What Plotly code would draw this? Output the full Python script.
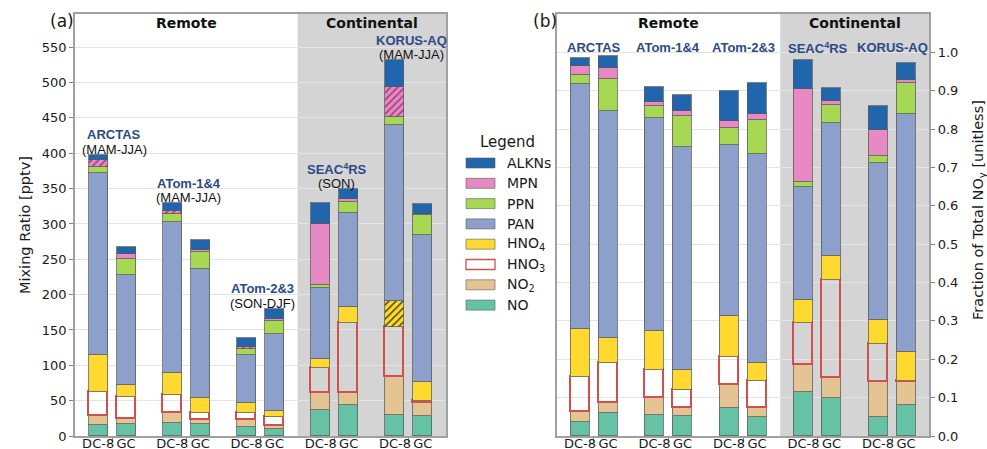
import plotly.graph_objects as go

# ---------------------------------------------------------------------------
# Data: NOy partitioning, aircraft (DC-8) vs GEOS-Chem (GC), five campaigns.
# Each list holds 10 bars: [ARCTAS DC-8, ARCTAS GC, ATom-1&4 DC-8, ATom-1&4 GC,
#  ATom-2&3 DC-8, ATom-2&3 GC, SEAC4RS DC-8, SEAC4RS GC, KORUS DC-8, KORUS GC]
# ---------------------------------------------------------------------------
campaigns = ["ARCTAS", "ATom-1&4", "ATom-2&3", "SEAC<sup>4</sup>RS", "KORUS-AQ"]
seasons = ["(MAM-JJA)", "(MAM-JJA)", "(SON-DJF)", "(SON)", "(MAM-JJA)"]
bar_labels = ["DC-8", "GC"]

species = ["NO", "NO2", "HNO3", "HNO4", "PAN", "PPN", "MPN", "ALKNs"]
species_names = ["NO", "NO<sub>2</sub>", "HNO<sub>3</sub>", "HNO<sub>4</sub>",
                 "PAN", "PPN", "MPN", "ALKNs"]

# mixing ratios [pptv]
ppt_no = [15.5, 17, 18, 17, 12.3, 10, 36.8, 43.9, 29.7, 28.3]
ppt_no2 = [13, 6.6, 14, 5.6, 10.3, 4.6, 23.6, 16.5, 53.8, 18.7]
ppt_hno3 = [34, 31.1, 26.5, 10.4, 10.4, 12.4, 35.6, 99, 70.5, 2.5]
ppt_hno4 = [52, 17.5, 31.1, 21.2, 14, 8, 12.5, 22.6, 37.5, 26.5]
ppt_pan = [257, 155.2, 213.7, 181.6, 67.6, 109, 100.5, 133, 249, 208.4]
ppt_ppn = [9.5, 22.6, 10.4, 24.2, 8, 18, 4.7, 16.5, 11.3, 27.6]
ppt_mpn = [9.5, 7.5, 4.3, 3, 2.9, 3, 86.3, 3.5, 41.6, 2]
ppt_alkn = [7.5, 10.5, 11.7, 14, 13.2, 15, 30, 14.5, 38.6, 14]

# fraction of total NOy [unitless]
frac_no = [.036, .061, .055, .053, .074, .050, .115, .100, .050, .081]
frac_no2 = [.027, .024, .045, .021, .058, .022, .069, .052, .090, .060]
frac_hno3 = [.090, .106, .071, .045, .074, .071, .110, .255, .101, .003]
frac_hno4 = [.126, .064, .104, .054, .107, .046, .061, .062, .061, .076]
frac_pan = [.638, .592, .553, .581, .445, .546, .293, .348, .409, .619]
frac_ppn = [.024, .083, .031, .079, .046, .089, .013, .046, .019, .082]
frac_mpn = [.024, .028, .012, .013, .017, .015, .243, .010, .067, .006]
frac_alkn = [.021, .032, .039, .043, .077, .082, .076, .033, .062, .046]

# DC-8 values that are upper limits / uncertain (drawn hatched)
hatched_mpn = [True, False, True, False, True, False, False, False, True, False]
hatched_hno4 = [False] * 8 + [True, False]

ppt_table = [ppt_no, ppt_no2, ppt_hno3, ppt_hno4, ppt_pan, ppt_ppn, ppt_mpn, ppt_alkn]
frac_table = [frac_no, frac_no2, frac_hno3, frac_hno4, frac_pan, frac_ppn, frac_mpn, frac_alkn]

# ---------------------------------------------------------------------------
# Styling
# ---------------------------------------------------------------------------
colors = {
    "NO": "#66c2a5", "NO2": "#e5c494", "HNO3": "rgba(0,0,0,0)", "HNO4": "#ffd92f",
    "PAN": "#8da0cb", "PPN": "#a6d854", "MPN": "#e78ac3", "ALKNs": "#2166ac",
}
edge = "rgba(90,90,90,0.75)"
hno3_edge = "#d05050"
label_blue = "#2b4a86"
font_main = "DejaVu Sans"
font_lab = "Liberation Sans"
text_col = "#1a1a1a"

offset = 0.188
bar_w = 0.256
xpos = [i + d for i in range(len(campaigns)) for d in (-offset, offset)]
ticktext = [bar_labels[j] for _ in campaigns for j in range(2)]

fig = go.Figure()

for panel, table in ((1, ppt_table), (2, frac_table)):
    xa = "x" if panel == 1 else "x2"
    ya = "y" if panel == 1 else "y2"
    for k, sp in enumerate(species):
        line = dict(color=hno3_edge if sp == "HNO3" else edge,
                    width=1.6 if sp == "HNO3" else 1)
        marker = dict(color=colors[sp], line=line)
        if panel == 1 and sp in ("MPN", "HNO4"):
            flags = hatched_mpn if sp == "MPN" else hatched_hno4
            marker["pattern"] = dict(
                shape=["/" if f else "" for f in flags],
                fgcolor="#9b3f7c" if sp == "MPN" else "#4a4a1a",
                bgcolor=colors[sp], size=5, solidity=0.3, fillmode="replace")
        fig.add_trace(go.Bar(
            x=xpos, y=table[k], width=bar_w, name=species_names[k],
            marker=marker, xaxis=xa, yaxis=ya, showlegend=False,
            hovertemplate=species_names[k] + ": %{y}<extra></extra>"))

# ---------------------------------------------------------------------------
# Axes
# ---------------------------------------------------------------------------
W, H = 987, 449
dom_x1 = [75 / W, 446 / W]
dom_x2 = [556.7 / W, 929.3 / W]
dom_y = [1 - 436 / H, 1 - 14 / H]
axis_line = "#a0a0a0"
grid = "#e4e4e4"
tick_font = dict(family=font_main, size=13, color=text_col)

xaxis_common = dict(
    range=[-0.5, 4.5], tickvals=xpos, ticktext=ticktext, ticks="", tickangle=0,
    ticklabelstandoff=-5,
    tickfont=tick_font, showgrid=False, zeroline=False,
    showline=True, linecolor=axis_line, linewidth=1.5, mirror=True,
    minor=dict(tickvals=list(range(len(campaigns))), ticks="outside",
               ticklen=4, tickcolor="#808080", showgrid=False),
    automargin=False, fixedrange=True,
)
yaxis_common = dict(
    ticks="outside", ticklen=4, tickcolor="#808080", tickfont=tick_font,
    showgrid=True, gridcolor=grid, gridwidth=1, zeroline=False,
    showline=True, linecolor=axis_line, linewidth=1.5, mirror=True,
    automargin=False, fixedrange=True,
)
fig.update_layout(
    xaxis=dict(domain=dom_x1, anchor="y", **xaxis_common),
    xaxis2=dict(domain=dom_x2, anchor="y2", **xaxis_common),
    yaxis=dict(domain=dom_y, anchor="x", range=[0, 597],
               tickvals=list(range(0, 551, 50)), **yaxis_common),
    yaxis2=dict(domain=dom_y, anchor="x2", side="right", range=[0, 1.1],
                tickvals=[i / 10 for i in range(11)], tickformat=".1f", **yaxis_common),
    barmode="stack",
    bargap=0,
    width=W, height=H,
    margin=dict(l=0, r=0, t=0, b=0),
    paper_bgcolor="white", plot_bgcolor="white",
    showlegend=False,
)

# Continental region shading
for xr in ("x", "x2"):
    fig.add_shape(type="rect", xref=xr, yref="paper", x0=2.5, x1=4.5,
                  y0=dom_y[0], y1=dom_y[1], fillcolor="#d4d4d4",
                  line=dict(width=0), layer="below")

# ---------------------------------------------------------------------------
# Text
# ---------------------------------------------------------------------------
ann = []


def py(p):
    return 1 - p / H


def px(p):
    return p / W


def text(t, x, y, xref="paper", yref="paper", size=14, family=font_main,
         color=text_col, xanchor="center", angle=0):
    ann.append(dict(text=t, x=x, y=y, xref=xref, yref=yref, showarrow=False,
                    xanchor=xanchor, yanchor="middle", textangle=angle,
                    font=dict(family=family, size=size, color=color)))


text("(a)", px(62), py(21), size=17)
text("(b)", px(545), py(21), size=17)

for xr in ("x", "x2"):
    text("<b>Remote</b>", 1.0, py(23), xref=xr, size=14, color="#111")
    text("<b>Continental</b>", 3.5, py(23), xref=xr, size=14, color="#111")

for i, (c, s) in enumerate(zip(campaigns, seasons)):
    # labels sit just above the taller of each DC-8 / GC pair
    top = max(sum(t[2 * i + j] for t in ppt_table) for j in range(2))
    text("<b>" + c + "</b>", i + 0.03, top + 28, xref="x", yref="y",
         size=13, family=font_lab, color=label_blue)
    text(s, i + 0.03, top + 8, xref="x", yref="y", size=13, family=font_lab, color="#111")
    # campaign names along the top of the fraction panel
    text("<b>" + c + "</b>", i, 1.012, xref="x2", yref="y2",
         size=13, family=font_lab, color=label_blue)

# axis titles
text("Mixing Ratio [pptv]", px(25), py(225), size=14.5, angle=-90)
text("Fraction of Total NO<sub>y</sub> [unitless]", px(979), py(210), size=14.5, angle=-90)

# legend between the two panels (top entry = top of stack)
text("Legend", px(507.5), py(142), size=15)
for n, k in enumerate(reversed(range(len(species)))):
    yc = 163 + n * 20.3
    sp = species[k]
    fig.add_shape(type="rect", xref="paper", yref="paper",
                  x0=px(466), x1=px(495), y0=py(yc + 5), y1=py(yc - 5),
                  fillcolor="white" if sp == "HNO3" else colors[sp],
                  line=dict(color=hno3_edge if sp == "HNO3" else "rgba(90,90,90,0.6)",
                            width=1.3 if sp == "HNO3" else 1))
    text(species_names[k], px(505), py(yc), size=14, xanchor="left")

fig.update_layout(annotations=ann)
fig.write_html("out.html")
